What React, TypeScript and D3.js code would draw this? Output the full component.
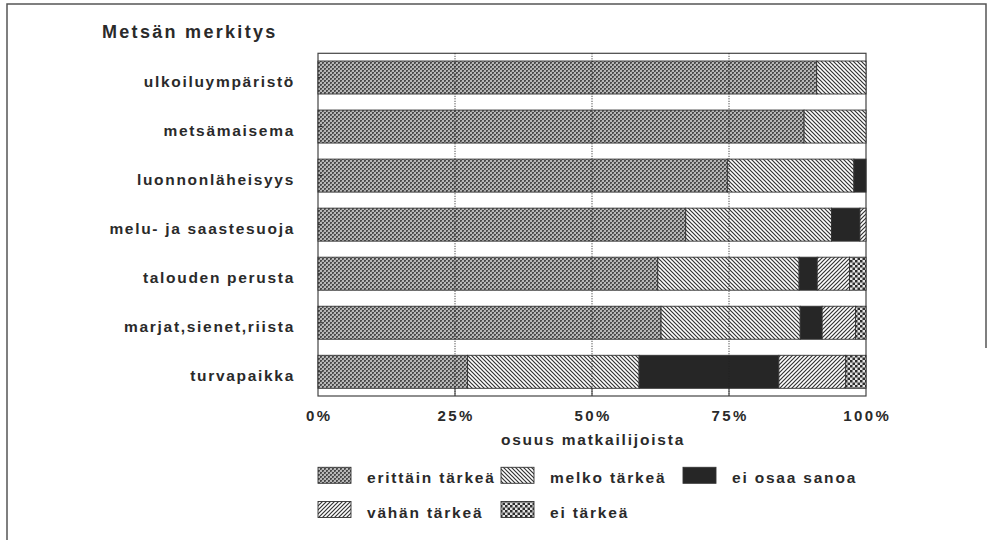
import React from 'react';
import * as d3 from 'd3';

const categories = [
  'ulkoiluympäristö',
  'metsämaisema',
  'luonnonläheisyys',
  'melu- ja saastesuoja',
  'talouden perusta',
  'marjat,sienet,riista',
  'turvapaikka',
];
const seriesNames = ['erittäin tärkeä', 'melko tärkeä', 'ei osaa sanoa', 'vähän tärkeä', 'ei tärkeä'];
const erittainTarkea = [91.0, 88.7, 74.7, 67.1, 62.0, 62.6, 27.3];
const melkoTarkea = [9.0, 11.3, 23.1, 26.6, 25.8, 25.4, 31.3];
const eiOsaaSanoa = [0, 0, 2.2, 5.2, 3.3, 4.0, 25.5];
const vahanTarkea = [0, 0, 0, 1.1, 5.9, 6.1, 12.2];
const eiTarkea = [0, 0, 0, 0, 3.0, 1.9, 3.7];
const xTicks = [0, 25, 50, 75, 100];
const xTickLabels = ['0%', '25%', '50%', '75%', '100%'];
const title = 'Metsän merkitys';
const xTitle = 'osuus matkailijoista';

const seriesValues = [erittainTarkea, melkoTarkea, eiOsaaSanoa, vahanTarkea, eiTarkea];
const patternIds = ['pErittain', 'pMelko', 'pEiOsaa', 'pVahan', 'pEiTarkea'];

const FONT = '"Liberation Sans", Arial, Helvetica, sans-serif';
const INK = '#2a2a2a';

export default function App() {
  const left = 318;
  const right = 866;
  const top = 53.3;
  const bottom = 396;

  const x = d3.scaleLinear().domain([0, 100]).range([left, right]);
  const y = d3
    .scaleBand<string>()
    .domain(categories)
    .range([top, bottom])
    .paddingInner(0.327)
    .paddingOuter(0.157);

  const table = categories.map((c, i) => {
    const row: any = { category: c };
    seriesNames.forEach((s, k) => (row[s] = seriesValues[k][i]));
    return row;
  });
  const stacked = d3.stack<any>().keys(seriesNames)(table);

  const legendCols = [318, 501, 683];
  const legendRows = [467.3, 501.5];
  const legendItems = seriesNames.map((s, k) => ({
    name: s,
    col: legendCols[k % 3],
    row: legendRows[Math.floor(k / 3)],
    k,
  }));

  return (
    <svg
      width={987}
      height={540}
      style={{ position: 'absolute', left: 0, top: 0, background: '#fff' }}
      fontFamily={FONT}
    >
      <defs>
        <pattern id="pErittain" patternUnits="userSpaceOnUse" width={4} height={4}>
          <rect width={4} height={4} fill="#b8b8b8" />
          <rect width={2} height={2} fill="#4a4a4a" />
          <rect x={2} y={2} width={2} height={2} fill="#4a4a4a" />
          <rect x={1} y={1} width={1} height={1} fill="#777" />
          <rect x={3} y={3} width={1} height={1} fill="#777" />
        </pattern>
        <pattern id="pMelko" patternUnits="userSpaceOnUse" width={4} height={4}>
          <rect width={4} height={4} fill="#fff" />
          <path d="M-1,-1 L5,5 M-1,3 L1,5 M3,-1 L5,1" stroke="#333" strokeWidth={1.2} />
        </pattern>
        <pattern id="pEiOsaa" patternUnits="userSpaceOnUse" width={4} height={4}>
          <rect width={4} height={4} fill="#262626" />
        </pattern>
        <pattern id="pVahan" patternUnits="userSpaceOnUse" width={4} height={4}>
          <rect width={4} height={4} fill="#fff" />
          <path d="M-1,5 L5,-1 M-1,1 L1,-1 M3,5 L5,3" stroke="#333" strokeWidth={1.2} />
        </pattern>
        <pattern id="pEiTarkea" patternUnits="userSpaceOnUse" width={5} height={5}>
          <rect width={5} height={5} fill="#e4e4e4" />
          <rect width={2.5} height={2.5} fill="#2e2e2e" />
          <rect x={2.5} y={2.5} width={2.5} height={2.5} fill="#2e2e2e" />
        </pattern>
      </defs>

      {/* outer frame */}
      <path d="M7,540 L7,4 L986,4 L986,348" fill="none" stroke="#555" strokeWidth={1.5} />

      {/* title */}
      <text x={102} y={37.7} fontSize={18} fontWeight="bold" letterSpacing={2.3} fill={INK}>
        {title}
      </text>

      {/* plot frame */}
      <rect x={left} y={top} width={right - left} height={bottom - top} fill="#fff" stroke="#444" strokeWidth={1.2} />

      {/* bars */}
      {stacked.map((layer, k) => (
        <g key={layer.key}>
          {layer.map((d, i) => {
            const w = x(d[1]) - x(d[0]);
            if (w <= 0.01) return null;
            return (
              <rect
                key={i}
                x={x(d[0])}
                y={y(categories[i])}
                width={w}
                height={y.bandwidth()}
                fill={`url(#${patternIds[k]})`}
                stroke="#333"
                strokeWidth={0.9}
              />
            );
          })}
        </g>
      ))}

      {/* dotted gridlines */}
      {xTicks.slice(1, -1).map((t) => (
        <g key={t}>
          <line x1={x(t)} x2={x(t)} y1={top} y2={bottom} stroke="#222" strokeWidth={1} strokeDasharray="1 1.5" />
          <line x1={x(t)} x2={x(t)} y1={bottom - 8} y2={bottom} stroke="#333" strokeWidth={1} />
        </g>
      ))}

      {/* y ticks */}
      {categories.map((c) => (
        <line
          key={c}
          x1={left}
          x2={left + 4}
          y1={(y(c) as number) + y.bandwidth() / 2}
          y2={(y(c) as number) + y.bandwidth() / 2}
          stroke="#333"
          strokeWidth={1}
        />
      ))}

      {/* y labels */}
      {categories.map((c) => (
        <text
          key={c}
          x={295}
          y={(y(c) as number) + y.bandwidth() / 2 + 9}
          textAnchor="end"
          fontSize={15.5}
          fontWeight="bold"
          letterSpacing={1.7}
          fill={INK}
        >
          {c}
        </text>
      ))}

      {/* x tick labels */}
      {xTicks.map((t, i) => (
        <text
          key={t}
          x={x(t) + 1.2}
          y={420.5}
          textAnchor="middle"
          fontSize={15}
          fontWeight="bold"
          letterSpacing={2.4}
          fill={INK}
        >
          {xTickLabels[i]}
        </text>
      ))}

      {/* x title */}
      <text x={x(50) + 1} y={445} textAnchor="middle" fontSize={15.5} fontWeight="bold" letterSpacing={1.8} fill={INK}>
        {xTitle}
      </text>

      {/* legend */}
      {legendItems.map((it) => (
        <g key={it.name}>
          <rect
            x={it.col}
            y={it.row}
            width={33}
            height={16}
            fill={`url(#${patternIds[it.k]})`}
            stroke="#333"
            strokeWidth={0.9}
          />
          <text x={it.col + 49} y={it.row + 16} fontSize={15.5} fontWeight="bold" letterSpacing={1.8} fill={INK}>
            {it.name}
          </text>
        </g>
      ))}
    </svg>
  );
}
